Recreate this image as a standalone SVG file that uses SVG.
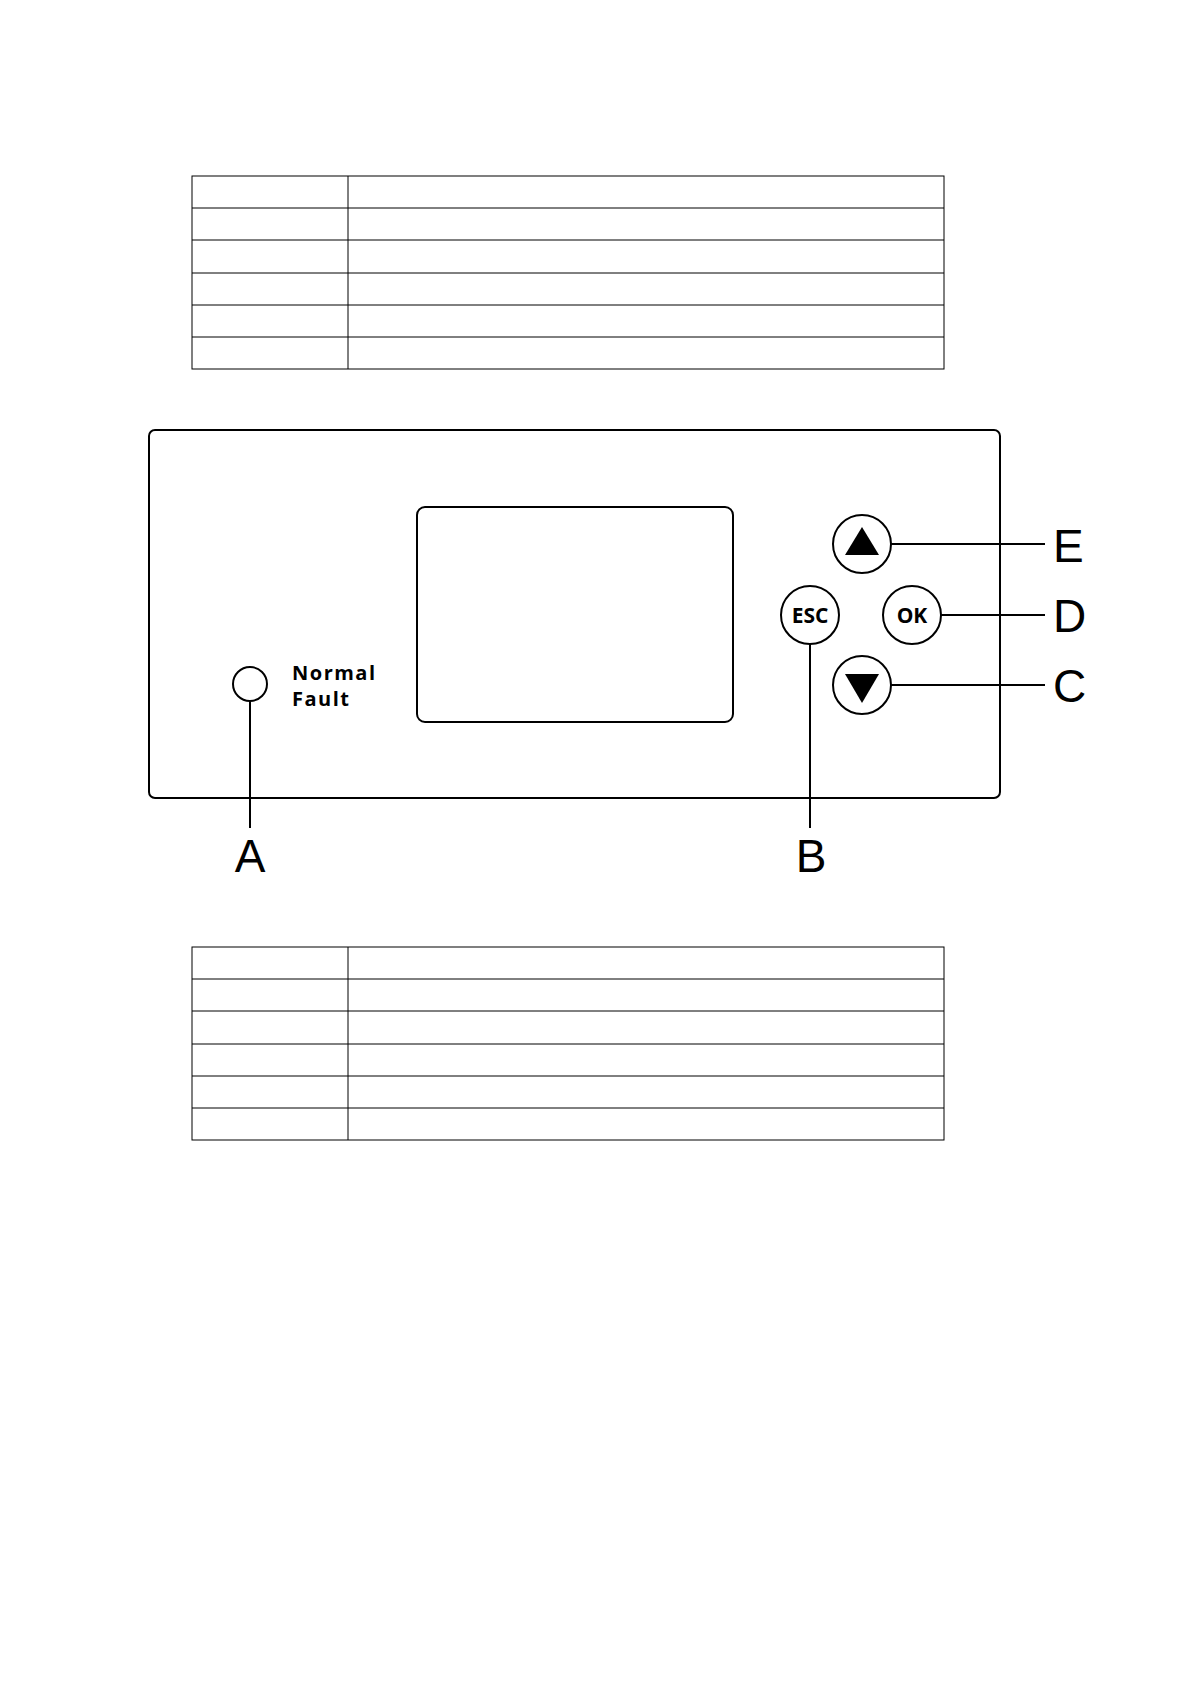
<svg xmlns="http://www.w3.org/2000/svg" width="1191" height="1684" viewBox="0 0 1191 1684">
<style>
.t{fill:none;stroke:#000;stroke-width:1}
.k{fill:none;stroke:#000;stroke-width:2}
.b{fill:#fff;stroke:#000;stroke-width:2}
.lbl{font-family:"Liberation Sans",Arial,sans-serif;font-size:46px;fill:#000}
.bt{font-family:"Open Sans","DejaVu Sans",sans-serif;font-weight:bold;fill:#000}
</style>
<rect width="1191" height="1684" fill="#fff"/>
<g id="table1" class="t">
<rect x="192" y="176" width="752" height="193"/>
<line x1="348" y1="176" x2="348" y2="369"/>
<line x1="192" y1="208" x2="944" y2="208"/>
<line x1="192" y1="240" x2="944" y2="240"/>
<line x1="192" y1="273" x2="944" y2="273"/>
<line x1="192" y1="305" x2="944" y2="305"/>
<line x1="192" y1="337" x2="944" y2="337"/>
</g>
<g id="panel"><rect class="k" x="149" y="430" width="851" height="368" rx="6"/></g>
<g id="screen"><rect class="k" x="417" y="507" width="316" height="215" rx="8"/></g>
<g id="connectors" class="k">
<line x1="250" y1="701" x2="250" y2="828"/>
<line x1="810" y1="644" x2="810" y2="828"/>
<line x1="891" y1="544" x2="1045" y2="544"/>
<line x1="941" y1="615" x2="1045" y2="615"/>
<line x1="891" y1="685" x2="1045" y2="685"/>
</g>
<g id="led"><circle class="b" cx="250" cy="684" r="17"/>
<text class="bt" x="292" y="680" font-size="20" letter-spacing="1.5">Normal</text>
<text class="bt" x="292" y="706" font-size="20" letter-spacing="1.5">Fault</text></g>
<g id="up"><circle class="b" cx="862" cy="544" r="29"/><polygon points="862,527 879,555 845,555"/></g>
<g id="esc"><circle class="b" cx="810" cy="615" r="29"/><text class="bt" x="810" y="623" font-size="21" text-anchor="middle">ESC</text></g>
<g id="ok"><circle class="b" cx="912" cy="615" r="29"/><text class="bt" x="912" y="623" font-size="21" text-anchor="middle">OK</text></g>
<g id="down"><circle class="b" cx="862" cy="685" r="29"/><polygon points="862,703 879,674 845,674"/></g>
<g id="labels">
<text class="lbl" x="250" y="872" text-anchor="middle">A</text>
<text class="lbl" x="811" y="872" text-anchor="middle">B</text>
<text class="lbl" x="1053" y="702">C</text>
<text class="lbl" x="1053" y="632">D</text>
<text class="lbl" x="1053" y="562">E</text>
</g>
<g id="table2" class="t">
<rect x="192" y="947" width="752" height="193"/>
<line x1="348" y1="947" x2="348" y2="1140"/>
<line x1="192" y1="979" x2="944" y2="979"/>
<line x1="192" y1="1011" x2="944" y2="1011"/>
<line x1="192" y1="1044" x2="944" y2="1044"/>
<line x1="192" y1="1076" x2="944" y2="1076"/>
<line x1="192" y1="1108" x2="944" y2="1108"/>
</g>
</svg>
